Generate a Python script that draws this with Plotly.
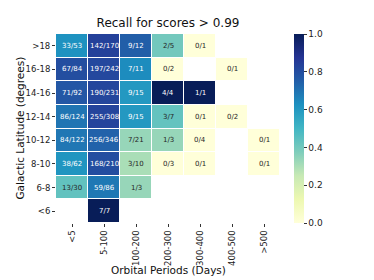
import numpy as np
import plotly.graph_objects as go
import plotly.express as px

periods = ["<5", "5-100", "100-200", "200-300", "300-400", "400-500", ">500"]
latitudes = [">18", "16-18", "14-16", "12-14", "10-12", "8-10", "6-8", "<6"]

# recovered / total per cell (None = no data)
hits = [
    [33, 142, 9, 2, 0, None, None],
    [67, 197, 7, 0, None, 0, None],
    [71, 190, 9, 4, 1, None, None],
    [86, 255, 9, 3, 0, 0, None],
    [84, 256, 7, 1, 0, None, 0],
    [38, 168, 3, 0, 0, None, 0],
    [13, 59, 1, None, None, None, None],
    [None, 7, None, None, None, None, None],
]
totals = [
    [53, 170, 12, 5, 1, None, None],
    [84, 242, 11, 2, None, 1, None],
    [92, 231, 15, 4, 1, None, None],
    [124, 308, 15, 7, 1, 2, None],
    [122, 346, 21, 3, 4, None, 1],
    [62, 210, 10, 3, 1, None, 1],
    [30, 86, 3, None, None, None, None],
    [None, 7, None, None, None, None, None],
]

z = []
for hr, tr in zip(hits, totals):
    row = []
    for h, t in zip(hr, tr):
        row.append(np.nan if h is None else h / t)
    z.append(row)

scale = px.colors.sequential.YlGnBu
cs = [[i / (len(scale) - 1), c] for i, c in enumerate(scale)]

fig = go.Figure(go.Heatmap(
    z=z, x=periods, y=latitudes, colorscale=cs, zmin=0, zmax=1,
    xgap=1, ygap=1, hoverongaps=False,
    colorbar=dict(
        x=1.0625, xanchor="left", xpad=0, ypad=0, thickness=10, len=1,
        y=0.5, yanchor="middle", outlinewidth=0,
        tickvals=[0, 0.2, 0.4, 0.6, 0.8, 1.0],
        ticktext=["0.0", "0.2", "0.4", "0.6", "0.8", "1.0"],
        ticks="outside", ticklen=3, tickcolor="#333",
        tickfont=dict(family="DejaVu Sans", size=9, color="#222"),
    ),
))

annotations = []
for i, lat in enumerate(latitudes):
    for j, per in enumerate(periods):
        h, t = hits[i][j], totals[i][j]
        if h is None:
            continue
        v = h / t
        annotations.append(dict(
            x=per, y=lat, xref="x", yref="y", text=f"{h}/{t}", showarrow=False,
            font=dict(family="DejaVu Sans", size=7,
                      color="white" if v > 0.5 else "#262626"),
        ))

annotations.append(dict(
    text="Orbital Periods (Days)", xref="paper", yref="paper", x=0.5, y=-0.249,
    xanchor="center", yanchor="middle", showarrow=False,
    font=dict(family="DejaVu Sans", size=10.5, color="#111"),
))
annotations.append(dict(
    text="Galactic Latitude (degrees)", xref="paper", yref="paper", x=-0.165, y=0.5,
    xanchor="center", yanchor="middle", textangle=-90, showarrow=False,
    font=dict(family="DejaVu Sans", size=10.5, color="#111"),
))

fig.update_layout(
    width=374, height=280,
    margin=dict(l=56, r=94, t=34, b=57),
    paper_bgcolor="white", plot_bgcolor="white",
    title=dict(text="Recall for scores > 0.99", x=168 / 374, xanchor="center",
               y=1 - 23 / 280, yanchor="middle",
               font=dict(family="DejaVu Sans", size=12, color="#111")),
    annotations=annotations,
    xaxis=dict(type="category", tickangle=-90, ticks="outside", ticklen=3,
               tickcolor="#333", showgrid=False, zeroline=False, showline=False,
               tickfont=dict(family="DejaVu Sans", size=8.5, color="#222")),
    yaxis=dict(type="category", autorange="reversed", ticks="outside", ticklen=3,
               tickcolor="#333", showgrid=False, zeroline=False, showline=False,
               tickfont=dict(family="DejaVu Sans", size=8.5, color="#222")),
)

fig.write_html("out.html", config={"displayModeBar": False},
               post_script="document.body.style.margin='0px';")
